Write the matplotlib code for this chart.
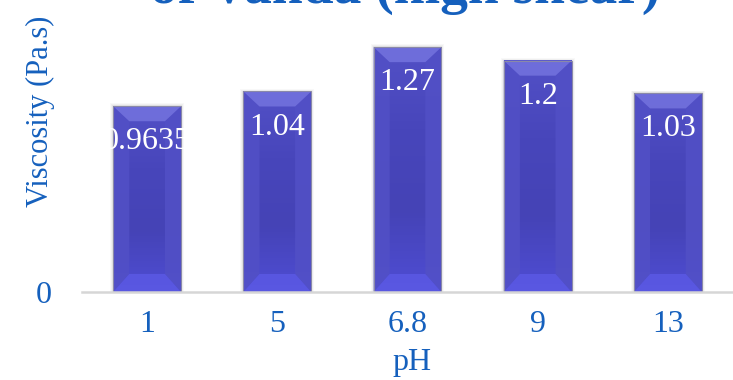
import matplotlib
matplotlib.use("Agg")
import numpy as np
import matplotlib.pyplot as plt
from matplotlib.colors import LinearSegmentedColormap
from matplotlib.patches import Polygon, FancyBboxPatch

# pH levels and measured viscosity
ph_levels = ["1", "5", "6.8", "9", "13"]
viscosity = [0.9635, 1.04, 1.27, 1.2, 1.03]
value_labels = ["0.9635", "1.04", "1.27", "1.2", "1.03"]

_BLUE = "#1560bd"
_TOP = "#7473de"
_SIDE = "#5250c6"
_BOTTOM = "#5b59e4"
_EDGE = "#8a89a8"
_FONT = "Liberation Serif"

# vertical shading of the bar body, bottom -> top
body_cmap = LinearSegmentedColormap.from_list(
    "body", ["#4f4dd4", "#4543b6", "#4846bb", "#5250c6"])

fig = plt.figure(figsize=(7.33, 3.80), dpi=100)
ax = fig.add_axes([82 / 733, 88 / 380, 651 / 733, 292 / 380])

x = list(range(len(viscosity)))
width = 0.52
ax.set_xlim(-0.5, len(viscosity) - 0.5)
ax.set_ylim(0, 292 / 192.8)

# bevel size in data units
bx = 16 / 130
by_top = 15 / 192.8
by_bot = 18 / 192.8

# soft shadow behind each bar
for xi, v in zip(x, viscosity):
    for k, a in zip([6, 4, 2], [0.05, 0.07, 0.10]):
        ax.add_patch(FancyBboxPatch((xi - width / 2 - k / 260, 0), width + k / 130,
                                    v + k / 400, boxstyle="square,pad=0",
                                    fc="#808080", ec="none", alpha=a, zorder=1))

bars = ax.bar(x, viscosity, width=width, color="none", edgecolor="none", zorder=2)

grad = np.linspace(0, 1, 256).reshape(-1, 1)
for b in bars:
    x0 = b.get_x()
    x1 = x0 + b.get_width()
    top = b.get_height()
    im = ax.imshow(grad, cmap=body_cmap, origin="lower", aspect="auto",
                   extent=(x0, x1, 0, top), zorder=2, interpolation="bilinear")
    faces = [
        ([(x0, top), (x0 + bx, top - by_top), (x0 + bx, by_bot), (x0, 0)], _SIDE),
        ([(x1, top), (x1 - bx, top - by_top), (x1 - bx, by_bot), (x1, 0)], _SIDE),
        ([(x0, top), (x1, top), (x1 - bx, top - by_top), (x0 + bx, top - by_top)], _TOP),
        ([(x0, 0), (x1, 0), (x1 - bx, by_bot), (x0 + bx, by_bot)], _BOTTOM),
    ]
    for pts, c in faces:
        ax.add_patch(Polygon(pts, closed=True, fc=c, ec="none", alpha=0.85, zorder=3))
    ax.add_patch(Polygon([(x0, 0), (x0, top), (x1, top), (x1, 0)], closed=True,
                         fill=False, ec=_EDGE, lw=0.8, zorder=4))

for xi, v, lab in zip(x, viscosity, value_labels):
    ax.annotate(lab, (xi, v), xytext=(0, -31), textcoords="offset points",
                ha="center", va="baseline", color="white", fontsize=23,
                family=_FONT, zorder=5)

ax.set_xticks(x)
ax.set_xticklabels(ph_levels, fontsize=23, family=_FONT, color=_BLUE)
ax.set_yticks([0])
ax.set_yticklabels(["0"], fontsize=23, family=_FONT, color=_BLUE)
ax.tick_params(axis="x", length=0, pad=13)
ax.tick_params(axis="y", length=0, pad=22)

for s in ["top", "right", "left"]:
    ax.spines[s].set_visible(False)
ax.spines["bottom"].set_color("#d6d6d6")
ax.spines["bottom"].set_linewidth(1.8)
ax.spines["bottom"].set_zorder(6)
ax.patch.set_alpha(0)

fig.text(40 / 733, 1 - 111 / 380, "Viscosity (Pa.s)", rotation=90, ha="center",
         va="center", fontsize=22, family=_FONT, color=_BLUE)
fig.text(412 / 733, 10 / 380, "pH", ha="center", va="baseline", fontsize=23,
         family=_FONT, color=_BLUE)
fig.text(405 / 733, 1 - 3 / 380, "of Vanda (high shear)", ha="center",
         va="baseline", fontsize=40, fontweight="bold", family=_FONT, color=_BLUE)

fig.savefig("out.png", dpi=100)
